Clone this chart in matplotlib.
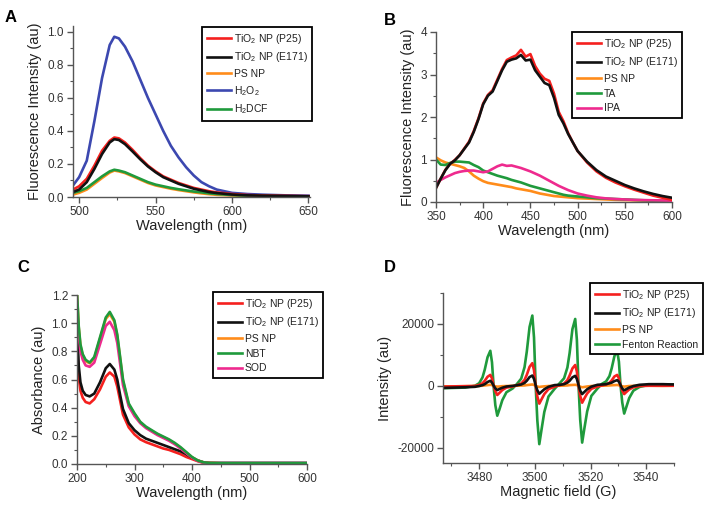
import matplotlib
matplotlib.use("Agg")
import matplotlib.pyplot as plt
from matplotlib.ticker import MultipleLocator

plt.rcParams['font.family'] = ['Liberation Sans', 'DejaVu Sans']
plt.rcParams['mathtext.default'] = 'regular'
plt.rcParams['axes.unicode_minus'] = False

## colours
RED, BLACK, ORANGE = '#f5201e', '#111111', '#ff8c1a'
BLUE, GREEN, PINK = '#3c48b0', '#1f9a3c', '#ee2a8e'

## panel A - fluorescence (DCF)
wl_a = [496, 500, 505, 510, 515, 520, 523, 526, 530, 535, 540, 545, 550, 555,
        560, 565, 570, 575, 580, 585, 590, 600, 610, 620, 635, 650]
a_h2o2 = [0.07, 0.12, 0.22, 0.46, 0.72, 0.92, 0.97, 0.96, 0.91, 0.82, 0.71, 0.60, 0.50, 0.40,
          0.31, 0.24, 0.18, 0.13, 0.09, 0.065, 0.045, 0.025, 0.018, 0.014, 0.01, 0.008]
a_p25 = [0.045, 0.065, 0.11, 0.19, 0.28, 0.34, 0.36, 0.355, 0.33, 0.285, 0.235, 0.19, 0.155, 0.125,
         0.105, 0.085, 0.07, 0.055, 0.045, 0.035, 0.028, 0.018, 0.012, 0.009, 0.007, 0.005]
a_e171 = [0.03, 0.045, 0.09, 0.17, 0.26, 0.33, 0.35, 0.345, 0.32, 0.275, 0.228, 0.185, 0.15, 0.12,
          0.1, 0.08, 0.065, 0.05, 0.04, 0.03, 0.024, 0.015, 0.01, 0.008, 0.006, 0.004]
a_h2dcf = [0.025, 0.035, 0.055, 0.09, 0.125, 0.155, 0.165, 0.16, 0.15, 0.13, 0.11, 0.09, 0.075, 0.065,
           0.055, 0.047, 0.04, 0.033, 0.028, 0.022, 0.018, 0.012, 0.008, 0.006, 0.005, 0.004]
a_psnp = [0.015, 0.025, 0.045, 0.08, 0.115, 0.148, 0.16, 0.155, 0.145, 0.125, 0.105, 0.085, 0.07, 0.06,
          0.05, 0.042, 0.035, 0.028, 0.022, 0.017, 0.013, 0.009, 0.006, 0.005, 0.004, 0.003]

## panel B - fluorescence (TA)
wl_b = [350, 355, 360, 365, 370, 375, 380, 385, 390, 395, 400, 405, 410, 415, 420, 425, 430, 435,
        440, 445, 450, 455, 460, 465, 470, 475, 480, 485, 490, 495, 500, 510, 520, 530, 540, 550,
        560, 570, 580, 590, 600]
b_p25 = [0.33, 0.55, 0.76, 0.9, 0.99, 1.1, 1.26, 1.42, 1.67, 1.97, 2.32, 2.52, 2.63, 2.88, 3.13, 3.34,
         3.4, 3.45, 3.58, 3.42, 3.48, 3.2, 3.02, 2.9, 2.85, 2.55, 2.12, 1.9, 1.62, 1.4, 1.2, 0.93, 0.72,
         0.57, 0.46, 0.37, 0.29, 0.22, 0.15, 0.1, 0.05]
b_e171 = [0.33, 0.55, 0.75, 0.9, 0.98, 1.1, 1.25, 1.4, 1.65, 1.95, 2.3, 2.5, 2.6, 2.85, 3.1, 3.3,
          3.35, 3.38, 3.46, 3.33, 3.35, 3.1, 2.95, 2.8, 2.75, 2.45, 2.05, 1.85, 1.6, 1.4, 1.2, 0.95, 0.75,
          0.6, 0.5, 0.4, 0.32, 0.25, 0.19, 0.14, 0.1]
b_psnp = [1.05, 0.98, 0.93, 0.9, 0.87, 0.84, 0.8, 0.72, 0.62, 0.55, 0.49, 0.45, 0.43, 0.41, 0.39, 0.37,
          0.35, 0.32, 0.3, 0.28, 0.26, 0.23, 0.2, 0.18, 0.16, 0.14, 0.13, 0.12, 0.11, 0.1, 0.09, 0.08,
          0.07, 0.06, 0.05, 0.045, 0.04, 0.035, 0.03, 0.03, 0.03]
b_ta = [1.0, 0.88, 0.87, 0.92, 0.95, 0.95, 0.94, 0.93, 0.87, 0.82, 0.74, 0.7, 0.66, 0.62, 0.59, 0.56,
        0.52, 0.49, 0.46, 0.42, 0.38, 0.35, 0.32, 0.29, 0.26, 0.23, 0.2, 0.17, 0.15, 0.14, 0.13, 0.11,
        0.09, 0.08, 0.07, 0.06, 0.05, 0.04, 0.03, 0.025, 0.02]
b_ipa = [0.45, 0.52, 0.58, 0.63, 0.68, 0.71, 0.73, 0.74, 0.74, 0.72, 0.7, 0.72, 0.78, 0.84, 0.88, 0.85,
         0.86, 0.83, 0.8, 0.76, 0.72, 0.67, 0.62, 0.56, 0.5, 0.44, 0.38, 0.33, 0.28, 0.24, 0.2, 0.15,
         0.11, 0.085, 0.07, 0.06, 0.05, 0.045, 0.04, 0.035, 0.03]

## panel C - absorbance (NBT)
wl_c = [200, 203, 206, 210, 215, 222, 230, 240, 250, 257, 265, 270, 275, 280, 290, 300, 310,
        320, 330, 340, 350, 360, 370, 380, 390, 400, 410, 420, 430, 450, 500, 550, 600]
c_nbt = [1.22, 0.98, 0.85, 0.78, 0.74, 0.72, 0.76, 0.9, 1.04, 1.08, 1.02, 0.92, 0.76, 0.6, 0.43,
         0.36, 0.3, 0.265, 0.24, 0.215, 0.195, 0.175, 0.15, 0.12, 0.085, 0.05, 0.025, 0.012, 0.008,
         0.005, 0.005, 0.005, 0.005]
c_psnp = [1.21, 0.97, 0.84, 0.77, 0.73, 0.715, 0.75, 0.89, 1.03, 1.065, 1.01, 0.91, 0.75, 0.59, 0.42,
          0.355, 0.295, 0.26, 0.235, 0.21, 0.19, 0.17, 0.145, 0.115, 0.08, 0.048, 0.024, 0.012, 0.008,
          0.005, 0.005, 0.005, 0.005]
c_sod = [1.12, 0.92, 0.8, 0.74, 0.7, 0.69, 0.72, 0.85, 0.98, 1.01, 0.95, 0.86, 0.71, 0.56, 0.41,
         0.34, 0.29, 0.255, 0.23, 0.205, 0.185, 0.165, 0.14, 0.11, 0.078, 0.045, 0.022, 0.01, 0.007,
         0.005, 0.005, 0.005, 0.005]
c_e171 = [1.0, 0.7, 0.58, 0.52, 0.49, 0.48, 0.5, 0.58, 0.68, 0.71, 0.67, 0.6, 0.49, 0.39, 0.29,
          0.24, 0.205, 0.18, 0.165, 0.15, 0.135, 0.12, 0.105, 0.09, 0.07, 0.045, 0.025, 0.012, 0.008,
          0.008, 0.008, 0.008, 0.008]
c_p25 = [0.87, 0.62, 0.52, 0.47, 0.44, 0.43, 0.46, 0.53, 0.62, 0.65, 0.62, 0.55, 0.45, 0.35, 0.26,
         0.21, 0.175, 0.155, 0.14, 0.125, 0.11, 0.1, 0.085, 0.07, 0.05, 0.035, 0.02, 0.008, 0.005,
         0.005, 0.005, 0.005, 0.005]

## panel D - EPR
field_d = [3467, 3471, 3475,
           3478.5, 3480.0, 3481.2, 3482.0, 3483.0, 3484.0, 3484.6, 3485.2, 3485.8, 3486.5, 3487.3, 3488.3, 3489.8, 3492.0,
           3493.6, 3495.1, 3496.3, 3497.1, 3498.1, 3499.1, 3499.7, 3500.3, 3500.9, 3501.6, 3502.4, 3503.4, 3504.9, 3507.1,
           3509.0, 3510.5, 3511.7, 3512.5, 3513.5, 3514.5, 3515.1, 3515.7, 3516.3, 3517.0, 3517.8, 3518.8, 3520.3, 3522.5,
           3524.1, 3525.6, 3526.8, 3527.6, 3528.6, 3529.6, 3530.2, 3530.8, 3531.4, 3532.1, 3532.9, 3533.9, 3535.4, 3537.6,
           3541, 3546, 3550]
d_fenton = [-800, -700, -600,
            0, 800, 2700, 5200, 9200, 11300, 7600, -300, -6300, -9700, -7600, -4700, -2100, -900,
            600, 2300, 6000, 11000, 19000, 22700, 15600, 0, -11300, -18900, -14200, -8500, -3500, -1000,
            900, 2400, 5900, 10600, 18300, 21600, 14900, 0, -11000, -18400, -13800, -8300, -3300, -900,
            600, 1400, 3100, 5600, 9600, 11200, 7800, 100, -5400, -9000, -6800, -4000, -1600, -400,
            300, 400, 400]
d_p25 = [-300, -200, -150,
         -100, 250, 800, 1600, 2900, 3500, 2400, 0, -1800, -3000, -2300, -1400, -600, -250,
         200, 700, 1900, 3500, 6100, 7300, 5000, 0, -3500, -5800, -4400, -2700, -1100, -300,
         200, 700, 1800, 3300, 5600, 6700, 4600, 0, -3300, -5500, -4100, -2500, -1000, -250,
         100, 400, 950, 1700, 3000, 3500, 2400, 0, -1600, -2700, -2000, -1200, -500, -100,
         0, 0, 0]
d_e171 = [-700, -600, -500,
          -350, -100, 200, 500, 1200, 1600, 1000, 0, -850, -1400, -1050, -650, -250, -50,
          150, 400, 900, 1600, 2800, 3300, 2200, 100, -1500, -2600, -1950, -1150, -350, 200,
          300, 500, 1000, 1600, 2700, 3200, 2200, 200, -1600, -2700, -2000, -1150, -300, 300,
          400, 500, 800, 1000, 1500, 1800, 1300, 200, -900, -1500, -1100, -600, -100, 300,
          500, 500, 400]
d_psnp = [-200, -200, -150,
          -100, -50, 0, 100, 200, 300, 200, 0, -200, -300, -250, -150, -100, -50,
          0, 50, 100, 200, 300, 400, 250, 0, -250, -400, -300, -200, -100, 0,
          0, 50, 100, 200, 250, 300, 200, 0, -300, -500, -400, -250, -100, 0,
          0, 50, 100, 150, 200, 250, 150, 0, -150, -300, -200, -100, -50, 0,
          0, -50, 0]

TIO_P25 = 'TiO$_2$ NP (P25)'
TIO_E171 = 'TiO$_2$ NP (E171)'

W, H = 704, 505
fig = plt.figure(figsize=(W / 100, H / 100), dpi=100)


def axes_px(left, top, right, bottom):
    return fig.add_axes([left / W, 1 - bottom / H, (right - left) / W, (bottom - top) / H])


def style(ax, xlabel, ylabel):
    for s in ('top', 'right'):
        ax.spines[s].set_visible(False)
    for s in ('left', 'bottom'):
        ax.spines[s].set_color('#555555')
        ax.spines[s].set_linewidth(1.0)
    ax.tick_params(which='major', direction='out', length=4, width=1, color='#555555',
                   labelsize=8.5, labelcolor='#333333', pad=2.5)
    ax.tick_params(which='minor', direction='out', length=2.5, width=0.8, color='#555555')
    ax.set_xlabel(xlabel, fontsize=10.5, color='#222222', labelpad=1)
    ax.set_ylabel(ylabel, fontsize=10.5, color='#222222', labelpad=4)


def legend(ax, lines, labels, x0, y0):
    leg = ax.legend(lines, labels, loc='upper left', bbox_to_anchor=(x0 / W, 1 - y0 / H),
                    bbox_transform=fig.transFigure, borderaxespad=0, fancybox=False,
                    fontsize=7.5, handlelength=2.3, handletextpad=0.3, labelspacing=0.45,
                    borderpad=0.45, framealpha=1)
    leg.get_frame().set_edgecolor('black')
    leg.get_frame().set_linewidth(1.3)
    for t in leg.get_texts():
        t.set_color('#222222')
    return leg


LW = 1.9

# A
ax = axes_px(73, 26, 310, 197)
l_or, = ax.plot(wl_a, a_psnp, color=ORANGE, lw=LW)
l_gr, = ax.plot(wl_a, a_h2dcf, color=GREEN, lw=LW)
l_bl, = ax.plot(wl_a, a_h2o2, color=BLUE, lw=LW)
l_rd, = ax.plot(wl_a, a_p25, color=RED, lw=LW)
l_bk, = ax.plot(wl_a, a_e171, color=BLACK, lw=LW)
ax.set_xlim(496, 651)
ax.set_ylim(0, 1.035)
ax.xaxis.set_major_locator(MultipleLocator(50))
ax.xaxis.set_minor_locator(MultipleLocator(25))
ax.yaxis.set_major_locator(MultipleLocator(0.2))
ax.yaxis.set_minor_locator(MultipleLocator(0.1))
ax.yaxis.set_major_formatter(lambda v, p: f"{v:.1f}")
style(ax, 'Wavelength (nm)', 'Fluorescence Intensity (au)')
legend(ax, [l_rd, l_bk, l_or, l_bl, l_gr],
       [TIO_P25, TIO_E171, 'PS NP', 'H$_2$O$_2$', 'H$_2$DCF'], 202, 27)

# B
ax = axes_px(436, 32, 672, 202)
l_or, = ax.plot(wl_b, b_psnp, color=ORANGE, lw=LW)
l_gr, = ax.plot(wl_b, b_ta, color=GREEN, lw=LW)
l_pk, = ax.plot(wl_b, b_ipa, color=PINK, lw=LW)
l_rd, = ax.plot(wl_b, b_p25, color=RED, lw=LW)
l_bk, = ax.plot(wl_b, b_e171, color=BLACK, lw=LW)
ax.set_xlim(350, 600)
ax.set_ylim(0, 4)
ax.xaxis.set_major_locator(MultipleLocator(50))
ax.xaxis.set_minor_locator(MultipleLocator(25))
ax.yaxis.set_major_locator(MultipleLocator(1))
ax.yaxis.set_minor_locator(MultipleLocator(0.5))
style(ax, 'Wavelength (nm)', 'Fluorescence Intensity (au)')
legend(ax, [l_rd, l_bk, l_or, l_gr, l_pk],
       [TIO_P25, TIO_E171, 'PS NP', 'TA', 'IPA'], 572, 32)

# C
ax = axes_px(77, 295, 307, 464)
l_rd, = ax.plot(wl_c, c_p25, color=RED, lw=LW)
l_bk, = ax.plot(wl_c, c_e171, color=BLACK, lw=LW)
l_or, = ax.plot(wl_c, c_psnp, color=ORANGE, lw=LW)
l_pk, = ax.plot(wl_c, c_sod, color=PINK, lw=LW)
l_gr, = ax.plot(wl_c, c_nbt, color=GREEN, lw=LW)
ax.set_xlim(200, 600)
ax.set_ylim(0, 1.2)
ax.xaxis.set_major_locator(MultipleLocator(100))
ax.xaxis.set_minor_locator(MultipleLocator(50))
ax.yaxis.set_major_locator(MultipleLocator(0.2))
ax.yaxis.set_minor_locator(MultipleLocator(0.1))
ax.yaxis.set_major_formatter(lambda v, p: f"{v:.1f}")
style(ax, 'Wavelength (nm)', 'Absorbance (au)')
legend(ax, [l_rd, l_bk, l_or, l_gr, l_pk],
       [TIO_P25, TIO_E171, 'PS NP', 'NBT', 'SOD'], 213, 292)

# D
ax = axes_px(443, 293, 674, 463)
l_gr, = ax.plot(field_d, d_fenton, color=GREEN, lw=LW)
l_or, = ax.plot(field_d, d_psnp, color=ORANGE, lw=LW)
l_rd, = ax.plot(field_d, d_p25, color=RED, lw=LW)
l_bk, = ax.plot(field_d, d_e171, color=BLACK, lw=LW)
ax.set_xlim(3467, 3550)
ax.set_ylim(-25000, 30000)
ax.xaxis.set_major_locator(MultipleLocator(20))
ax.xaxis.set_minor_locator(MultipleLocator(10))
ax.yaxis.set_major_locator(MultipleLocator(20000))
ax.yaxis.set_minor_locator(MultipleLocator(10000))
style(ax, 'Magnetic field (G)', 'Intensity (au)')
legend(ax, [l_rd, l_bk, l_or, l_gr],
       [TIO_P25, TIO_E171, 'PS NP', 'Fenton Reaction'], 590, 283)

# panel letters
for letter, x, y in [('A', 5, 10), ('B', 384, 13), ('C', 17, 260), ('D', 384, 260)]:
    fig.text(x / W, 1 - y / H, letter, fontsize=12, fontweight='bold', va='top', ha='left')

fig.savefig('out.png', dpi=100)
